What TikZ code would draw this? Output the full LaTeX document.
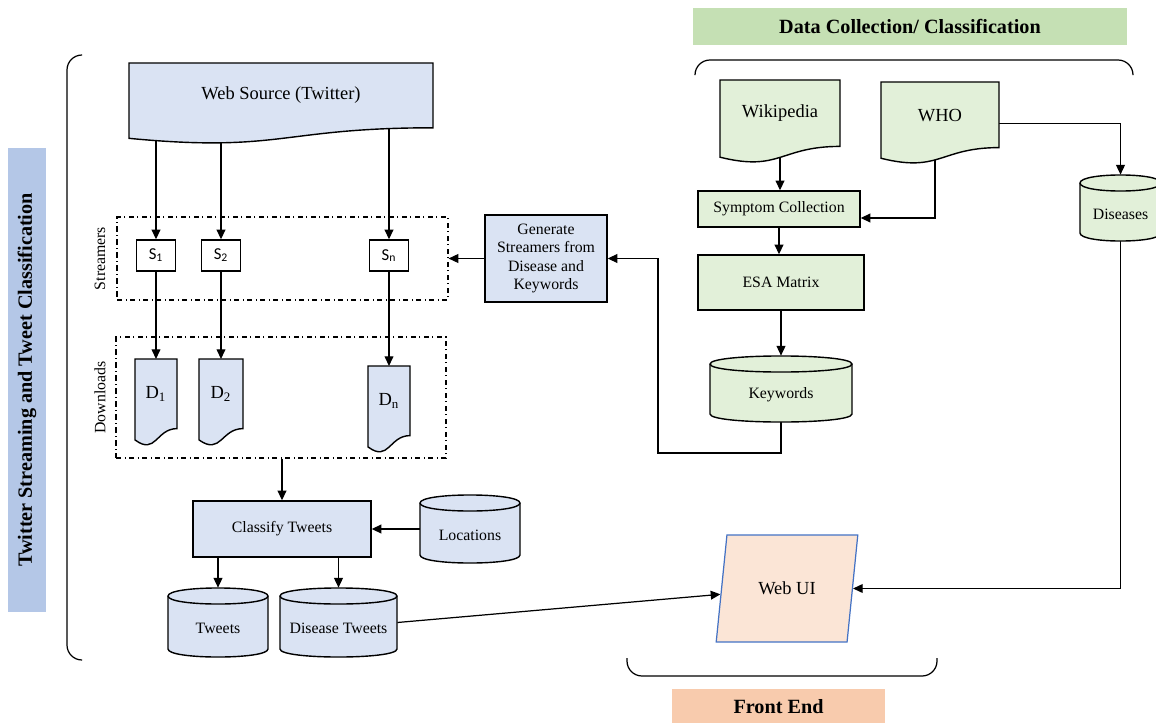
\documentclass[tikz,border=0pt]{standalone}
\usepackage{fontspec}
\setmainfont{Liberation Serif}
\newfontfamily\sfcal{Carlito}
\usetikzlibrary{arrows.meta,shapes.geometric,backgrounds}

\definecolor{srcblue}{HTML}{DAE3F3}
\definecolor{colgreen}{HTML}{E2F0D9}
\definecolor{titlegreen}{HTML}{C5E0B4}
\definecolor{bandblue}{HTML}{B4C7E7}
\definecolor{frontpeach}{HTML}{F8CBAD}
\definecolor{uifill}{HTML}{FBE5D6}
\definecolor{uiline}{HTML}{4472C4}

\newcommand{\labfont}{\fontsize{9}{10.5}\selectfont}
\newcommand{\namefont}{\fontsize{10.5}{12.5}\selectfont}
\newcommand{\hdfont}{\fontsize{11.5}{13}\selectfont\bfseries}
\newcommand{\sbfont}{\sfcal\fontsize{9.5}{11}\selectfont}
\newcommand{\dblabel}[1]{\raisebox{-3.5pt}[\height][\depth]{#1}}

% document outline: left, top, right, bottom, fill
\newcommand{\docshape}[5]{%
  \draw[line width=0.8pt, fill=#5] (#1,#2) -- (#3,#2) -- (#3,{#2+0.8*(#4-#2)})
    .. controls ({(#1+#3)/2},{#2+0.8*(#4-#2)}) and ({(#1+#3)/2},{#2+1.11*(#4-#2)}) .. (#1,{#2+0.93*(#4-#2)}) -- cycle;}
% database outline: left, top, right, bottom, fill
\newcommand{\dbshape}[5]{%
  \draw[line width=0.8pt, fill=#5] (#1,{#2+8}) -- (#1,{#4-8})
    .. controls (#1,{#4+2.7}) and (#3,{#4+2.7}) .. (#3,{#4-8}) -- (#3,{#2+8})
    .. controls (#3,{#2-2.7}) and (#1,{#2-2.7}) .. cycle;
  \draw[line width=0.8pt] (#1,{#2+8}) .. controls (#1,{#2+18.7}) and (#3,{#2+18.7}) .. (#3,{#2+8});}

\tikzset{
  box/.style={draw, line width=0.8pt, fill=#1, align=center, font=\labfont},
  hold/.style={inner sep=0pt, align=center},
  grp/.style={draw, dash dot, line width=0.7pt},
  sbox/.style={draw, fill=white, line width=0.8pt, minimum width=0.78cm, minimum height=0.62cm, inner sep=0pt, font=\sbfont},
  conn/.style={line width=0.7pt, -{Triangle[length=5.5pt,width=5pt]}},
  brace/.style={line width=0.7pt, rounded corners=0.3cm}
}

\begin{document}
\begin{tikzpicture}[x=0.02cm, y=-0.02cm]
\useasboundingbox (0,0) rectangle (1156,723);

% headings
\node[fill=titlegreen, minimum width=8.68cm, minimum height=0.74cm, font=\hdfont] (dctitle) at (910,26.5) {Data Collection/ Classification};
\node[fill=frontpeach, minimum width=4.26cm, minimum height=0.72cm, font=\hdfont] (fetitle) at (778.5,707) {Front End};
\node[fill=bandblue, rotate=90, minimum width=9.28cm, minimum height=0.76cm, font=\hdfont] (band) at (27,380) {Twitter Streaming and Tweet Classification};

% braces
\draw[brace] (82,55) -- (67,55) -- (67,660) -- (82,660);
\draw[brace] (695,74) -- (695,60) -- (1133,60) -- (1133,74);
\draw[brace] (627,658) -- (627,676) -- (937,676) -- (937,658);

% streaming side
\docshape{129}{63}{433}{144}{srcblue}
\node[hold, font=\namefont] (ws) at (281,95) {Web Source (Twitter)};

\node[grp, minimum width=6.62cm, minimum height=1.66cm] (strm) at (282.5,258.5) {};
\node[grp, minimum width=6.6cm, minimum height=2.42cm] (dnld) at (281,397.5) {};
\node[rotate=90, font=\labfont] (strmlbl) at (100,258.5) {Streamers};
\node[rotate=90, font=\labfont] (dnldlbl) at (100,397.5) {Downloads};

\node[sbox] (s1) at (156,255.5) {S\textsubscript{1}};
\node[sbox] (s2) at (221,255.5) {S\textsubscript{2}};
\node[sbox] (sn) at (389,255.5) {S\textsubscript{n}};

\docshape{135}{359}{177}{446}{srcblue}
\node[hold, minimum width=0.84cm, minimum height=1.4cm, anchor=north, font=\namefont] (d1) at (156,359) {D\textsubscript{1}};
\docshape{199}{359}{243}{446}{srcblue}
\node[hold, minimum width=0.88cm, minimum height=1.4cm, anchor=north, font=\namefont] (d2) at (221,359) {D\textsubscript{2}};
\docshape{368}{366}{410}{453}{srcblue}
\node[hold, minimum width=0.84cm, minimum height=1.4cm, anchor=north, font=\namefont] (dn) at (389,366) {D\textsubscript{n}};

\node[box=srcblue, minimum width=3.56cm, minimum height=1.12cm] (class) at (282,529) {Classify Tweets};
\dbshape{420}{495}{520}{563}{srcblue}
\node[hold, minimum width=2cm, minimum height=1.36cm, font=\labfont] (loc) at (470,529) {\dblabel{Locations}};
\dbshape{168}{588}{268}{657}{srcblue}
\node[hold, minimum width=2cm, minimum height=1.38cm, font=\labfont] (tw) at (218,622.5) {\dblabel{Tweets}};
\dbshape{280}{588}{397}{657}{srcblue}
\node[hold, minimum width=2.34cm, minimum height=1.38cm, font=\labfont] (dt) at (338.5,622.5) {\dblabel{Disease Tweets}};

\node[box=srcblue, minimum width=2.44cm, minimum height=1.74cm] (gen) at (546,258.5) {Generate\\Streamers from\\Disease and\\Keywords};

% collection side
\docshape{720}{80}{840}{163}{colgreen}
\node[hold, minimum width=2.4cm, minimum height=1.32cm, anchor=north, font=\namefont] (wiki) at (780,80) {Wikipedia};
\docshape{881}{82}{999}{164}{colgreen}
\node[hold, minimum width=2.36cm, minimum height=1.32cm, anchor=north, font=\namefont] (who) at (940,82) {WHO};
\node[box=colgreen, minimum width=3.24cm, minimum height=0.72cm] (symp) at (779,209) {Symptom Collection};
\node[box=colgreen, minimum width=3.32cm, minimum height=1.1cm] (esa) at (781,282.5) {ESA Matrix};
\dbshape{710}{356}{852}{422}{colgreen}
\node[hold, minimum width=2.84cm, minimum height=1.32cm, font=\labfont] (kw) at (781,389) {\dblabel{Keywords}};
\dbshape{1080}{175}{1161}{241}{colgreen}
\node[hold, minimum width=1.62cm, minimum height=1.32cm, font=\labfont] (dis) at (1120.5,208) {\dblabel{Diseases}};
\coordinate (kwturn) at (658,453);

% front end
\node[trapezium, trapezium left angle=76, trapezium right angle=104, trapezium stretches=true, draw=uiline, line width=0.7pt, fill=uifill, minimum width=2.84cm, minimum height=2.14cm, font=\namefont] (webui) at (787,588.5) {Web UI};

% connectors
\begin{scope}[on background layer]
\draw[conn] (ws -| s1) -- (s1);
\draw[conn] (ws -| s2) -- (s2);
\draw[conn] (ws -| sn) -- (sn);
\draw[conn] (s1) -- (d1);
\draw[conn] (s2) -- (d2);
\draw[conn] (sn) -- (dn);
\draw[conn] (dnld.south -| class) -- (class);
\draw[conn] (loc) -- (class);
\draw[conn] (class.south -| tw) -- (tw);
\draw[conn] (class.south -| dt) -- (dt);
\draw[conn] (dt.east) -- (webui);
\draw[conn] (gen) -- (strm);
\draw[conn] (wiki) -- (wiki |- symp.north);
\draw[conn] ([xshift=-0.1cm]who.south) |- ([yshift=-0.18cm]symp.east);
\draw[conn] ([yshift=-0.16cm]who.east) -| (dis);
\draw[conn] (symp) -- (symp |- esa.north);
\draw[conn] (esa) -- (esa |- kw.north);
\draw[conn] (kw) |- (kwturn) |- (gen);
\draw[conn] (dis) |- (webui);
\end{scope}
\end{tikzpicture}
\end{document}
